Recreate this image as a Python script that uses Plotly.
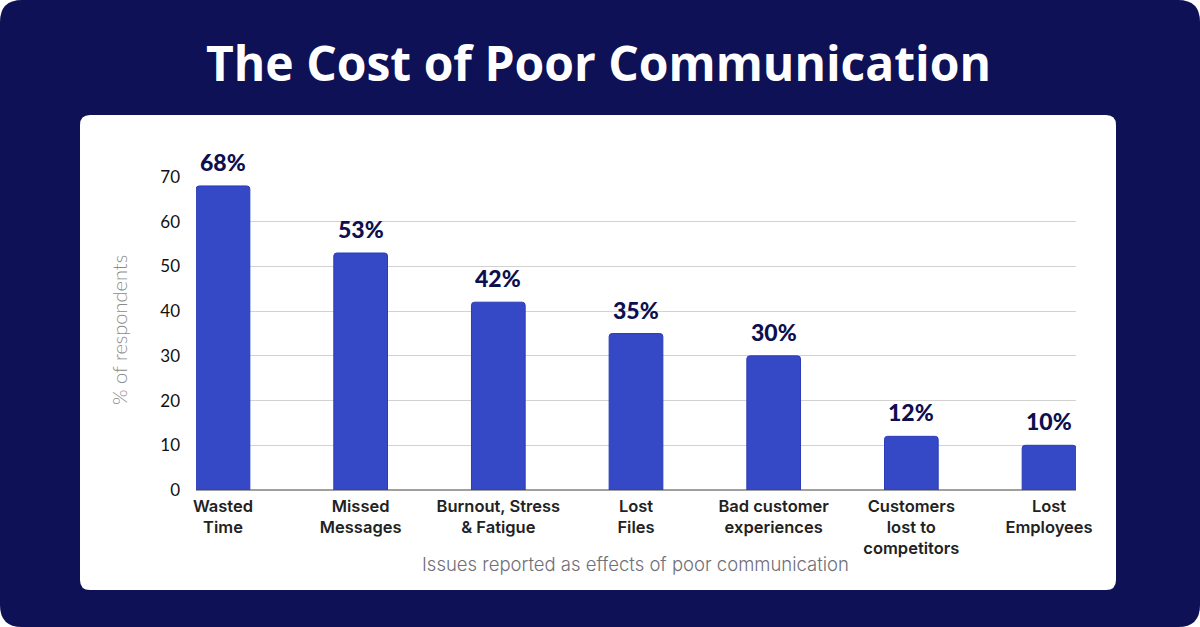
import plotly.graph_objects as go

categories = ["Wasted<br>Time", "Missed<br>Messages", "Burnout, Stress<br>& Fatigue", "Lost<br>Files",
              "Bad customer<br>experiences", "Customers<br>lost to<br>competitors", "Lost<br>Employees"]
values = [68, 53, 42, 35, 30, 12, 10]
value_labels = ["68%", "53%", "42%", "35%", "30%", "12%", "10%"]
y_ticks = [0, 10, 20, 30, 40, 50, 60, 70]

NAVY = "#0e1155"
BAR = "#3548c6"

# plot-area pixel geometry
L, R, T, B = 196, 1076, 177, 490
W, H = 1200, 627

def fx(px):
    return (px - L) / (R - L)

def fy(py):
    return (B - py) / (B - T)

def rounded_rect(x0, y0, x1, y1, r):
    X0, X1 = fx(x0), fx(x1)
    Y0, Y1 = fy(y0), fy(y1)
    rx = r / (R - L)
    ry = r / (B - T)
    return (f"M {X0+rx},{Y0} L {X1-rx},{Y0} Q {X1},{Y0} {X1},{Y0-ry} "
            f"L {X1},{Y1+ry} Q {X1},{Y1} {X1-rx},{Y1} "
            f"L {X0+rx},{Y1} Q {X0},{Y1} {X0},{Y1+ry} "
            f"L {X0},{Y0-ry} Q {X0},{Y0} {X0+rx},{Y0} Z")

x_idx = list(range(len(categories)))

fig = go.Figure()
fig.add_trace(go.Bar(
    x=x_idx, y=values, width=0.39,
    marker=dict(color=BAR, line=dict(color="#2b3cb8", width=1), cornerradius=3),
    hoverinfo="skip",
))

annotations = []
for i, (v, t) in enumerate(zip(values, value_labels)):
    annotations.append(dict(x=i, y=v, xref="x", yref="y", text=t, showarrow=False,
                            yanchor="bottom", yshift=8,
                            font=dict(family="Lato", size=23, color="#0d0f4f", weight=900)))

annotations.append(dict(x=fx(598), y=fy(63), xref="paper", yref="paper",
                        text="The Cost of Poor Communication", showarrow=False,
                        xanchor="center", yanchor="middle",
                        font=dict(family="Open Sans", size=48, color="white", weight=700)))
annotations.append(dict(x=fx(119), y=fy(330), xref="paper", yref="paper",
                        text="% of respondents", showarrow=False, textangle=-90,
                        xanchor="center", yanchor="middle",
                        font=dict(family="Lato", size=20, color="#8a8a8a", weight=300)))
annotations.append(dict(x=fx(635), y=fy(564), xref="paper", yref="paper",
                        text="Issues reported as effects of poor communication", showarrow=False,
                        xanchor="center", yanchor="middle",
                        font=dict(family="Inter", size=18.5, color="#6f6f78", weight=300)))

shapes = [
    dict(type="path", path=rounded_rect(0, 0, W, H, 22), xref="paper", yref="paper",
         fillcolor=NAVY, line=dict(width=0), layer="below"),
    dict(type="path", path=rounded_rect(80, 115, 1116, 590, 10), xref="paper", yref="paper",
         fillcolor="white", line=dict(width=0), layer="below"),
]

fig.update_layout(
    width=W, height=H,
    margin=dict(l=L, r=W - R, t=T, b=H - B, autoexpand=False),
    paper_bgcolor="white",
    plot_bgcolor="rgba(0,0,0,0)",
    showlegend=False,
    annotations=annotations,
    shapes=shapes,
    xaxis=dict(
        range=[-0.196, 6.196], tickmode="array", tickvals=x_idx, ticktext=categories,
        showgrid=False, zeroline=False, showline=False, ticks="",
        tickfont=dict(family="Inter", size=16.5, color="#222222", weight=600),
        ticklabelstandoff=4,
    ),
    yaxis=dict(
        range=[0, 70], tickmode="array", tickvals=y_ticks,
        showgrid=True, gridcolor="#d2d2d2", gridwidth=1,
        zeroline=True, zerolinecolor="#a0a0a0", zerolinewidth=2,
        showline=False, ticks="",
        tickfont=dict(family="Lato", size=17, color="#111111"),
        ticklabelstandoff=15,
    ),
)

fig.write_html("out.html", config={"displayModeBar": False},
               post_script="document.body.style.margin='0';document.body.style.overflow='hidden';")
